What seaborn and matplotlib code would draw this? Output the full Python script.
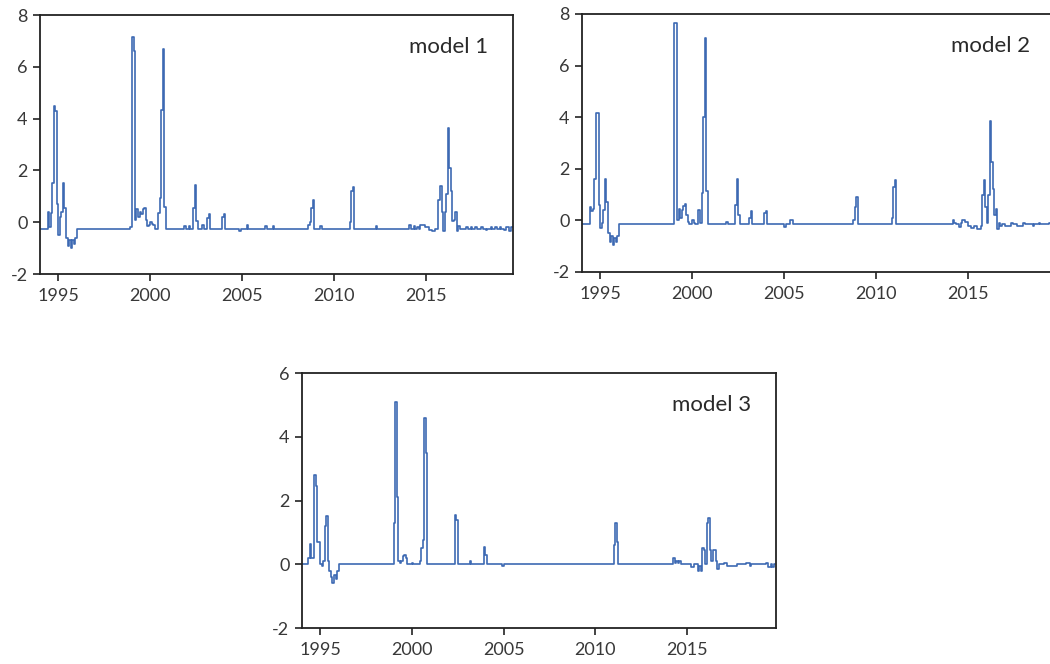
import pandas as pd
import matplotlib
matplotlib.use("Agg")
import matplotlib.pyplot as plt
import matplotlib.dates as mdates
import seaborn as sns

# monthly values (only the months where the line changes,
# the line is drawn as steps so flat stretches hold the last value)
model1 = [
    ("1994-01", -0.25), ("1994-06", 0.4), ("1994-07", -0.2), ("1994-08", 0.35),
    ("1994-09", 1.5), ("1994-10", 4.5), ("1994-11", 4.3), ("1994-12", 0.7),
    ("1995-01", -0.5), ("1995-02", 0.2), ("1995-03", 0.4), ("1995-04", 1.5),
    ("1995-05", 0.55), ("1995-06", -0.6), ("1995-07", -0.9), ("1995-08", -0.7),
    ("1995-09", -1.0), ("1995-10", -0.7), ("1995-11", -0.85), ("1995-12", -0.6),
    ("1996-01", -0.25), ("1998-12", -0.2), ("1999-01", 7.15), ("1999-02", 6.6),
    ("1999-03", 0.1), ("1999-04", 0.5), ("1999-05", 0.2), ("1999-06", 0.4),
    ("1999-07", 0.3), ("1999-08", 0.5), ("1999-09", 0.55), ("1999-10", 0.1),
    ("1999-11", -0.15), ("1999-12", -0.1), ("2000-01", 0.0), ("2000-02", -0.05),
    ("2000-03", -0.1), ("2000-04", -0.25), ("2000-06", 0.35), ("2000-07", 0.95),
    ("2000-08", 4.35), ("2000-09", 6.7), ("2000-10", 0.6), ("2000-11", -0.25),
    ("2001-11", -0.15), ("2001-12", -0.25), ("2002-02", -0.15), ("2002-03", -0.25),
    ("2002-05", 0.55), ("2002-06", 1.45), ("2002-07", 0.05), ("2002-08", -0.25),
    ("2002-11", -0.12), ("2002-12", -0.25), ("2003-02", 0.15), ("2003-03", 0.3),
    ("2003-04", -0.25), ("2003-12", 0.2), ("2004-01", 0.3), ("2004-02", -0.25),
    ("2004-11", -0.32), ("2004-12", -0.25), ("2005-04", -0.1), ("2005-05", -0.25),
    ("2006-04", -0.15), ("2006-05", -0.25), ("2006-09", -0.15), ("2006-10", -0.25),
    ("2008-08", -0.1), ("2008-09", 0.0), ("2008-10", 0.55), ("2008-11", 0.85),
    ("2008-12", -0.25), ("2009-04", -0.15), ("2009-05", -0.25),
    ("2010-11", 0.0), ("2010-12", 1.2), ("2011-01", 1.35), ("2011-02", -0.25),
    ("2012-04", -0.15), ("2012-05", -0.25),
    ("2014-02", -0.1), ("2014-03", -0.25), ("2014-05", -0.15), ("2014-06", -0.25),
    ("2014-07", -0.2), ("2014-08", -0.25), ("2014-09", -0.1), ("2014-11", -0.1),
    ("2014-12", -0.2), ("2015-03", -0.3), ("2015-05", -0.35), ("2015-07", -0.25),
    ("2015-09", 0.85), ("2015-10", 1.4), ("2015-11", 0.4), ("2015-12", -0.35),
    ("2016-01", 0.4), ("2016-02", 1.1), ("2016-03", 3.65), ("2016-04", 2.1),
    ("2016-05", 1.2), ("2016-06", 0.05), ("2016-07", 0.1), ("2016-08", 0.4),
    ("2016-09", -0.35), ("2016-10", -0.15), ("2016-11", -0.25),
    ("2017-03", -0.2), ("2017-04", -0.25), ("2017-06", -0.2), ("2017-07", -0.25),
    ("2017-09", -0.2), ("2017-10", -0.25), ("2018-01", -0.2), ("2018-02", -0.25),
    ("2018-04", -0.3), ("2018-05", -0.25), ("2018-07", -0.2), ("2018-08", -0.25),
    ("2018-10", -0.2), ("2018-11", -0.25), ("2019-01", -0.2), ("2019-02", -0.25),
    ("2019-04", -0.3), ("2019-05", -0.2), ("2019-07", -0.35), ("2019-08", -0.2),
    ("2019-10", -0.2),
]

model2 = [
    ("1994-01", -0.15), ("1994-06", 0.5), ("1994-07", 0.35), ("1994-08", 0.45),
    ("1994-09", 1.6), ("1994-10", 4.15), ("1994-11", 4.15), ("1994-12", 0.6),
    ("1995-01", -0.3), ("1995-02", -0.1), ("1995-03", 0.4), ("1995-04", 1.6),
    ("1995-05", 0.7), ("1995-06", -0.5), ("1995-07", -0.85), ("1995-08", -0.6),
    ("1995-09", -0.95), ("1995-10", -0.7), ("1995-11", -0.85), ("1995-12", -0.6),
    ("1996-01", -0.15), ("1999-01", 7.65), ("1999-02", 7.65), ("1999-03", 0.0),
    ("1999-04", 0.45), ("1999-05", 0.1), ("1999-06", 0.4), ("1999-07", 0.55),
    ("1999-08", 0.65), ("1999-09", 0.2), ("1999-10", -0.05), ("1999-11", -0.15),
    ("2000-01", 0.0), ("2000-02", -0.1), ("2000-03", -0.15), ("2000-05", 0.4),
    ("2000-06", -0.1), ("2000-07", 1.05), ("2000-08", 4.0), ("2000-09", 7.05),
    ("2000-10", 1.15), ("2000-11", -0.15),
    ("2001-11", -0.05), ("2001-12", -0.15), ("2002-05", 0.6), ("2002-06", 1.6),
    ("2002-07", 0.2), ("2002-08", -0.15), ("2003-02", 0.1), ("2003-03", 0.35),
    ("2003-04", -0.15), ("2003-12", 0.3), ("2004-01", 0.35), ("2004-02", -0.15),
    ("2005-01", -0.25), ("2005-02", -0.15), ("2005-05", 0.0), ("2005-07", -0.15),
    ("2008-10", 0.0), ("2008-11", 0.5), ("2008-12", 0.9), ("2009-01", -0.15),
    ("2010-11", 0.1), ("2010-12", 1.3), ("2011-01", 1.55), ("2011-02", -0.15),
    ("2014-03", 0.0), ("2014-04", -0.1), ("2014-05", -0.15), ("2014-07", -0.25),
    ("2014-08", -0.1), ("2014-09", 0.0), ("2014-11", -0.05), ("2015-01", -0.2),
    ("2015-03", -0.3), ("2015-05", -0.2), ("2015-07", -0.35), ("2015-09", -0.2),
    ("2015-10", 1.0), ("2015-11", 1.55), ("2015-12", 0.5), ("2016-01", -0.1),
    ("2016-02", 1.0), ("2016-03", 3.85), ("2016-04", 2.25), ("2016-05", 1.2),
    ("2016-06", 0.2), ("2016-07", 0.45), ("2016-08", -0.35), ("2016-09", -0.1),
    ("2016-10", -0.2), ("2016-11", -0.15), ("2017-01", -0.2), ("2017-05", -0.1),
    ("2017-06", -0.15), ("2017-09", -0.2), ("2018-01", -0.1), ("2018-02", -0.15),
    ("2018-07", -0.2), ("2018-08", -0.15), ("2018-11", -0.1), ("2018-12", -0.15),
    ("2019-06", -0.1), ("2019-07", -0.15), ("2019-09", -0.35), ("2019-10", -0.35),
]

model3 = [
    ("1994-01", 0.0), ("1994-05", 0.2), ("1994-06", 0.65), ("1994-07", 0.2),
    ("1994-09", 2.8), ("1994-10", 2.45), ("1994-11", 0.7), ("1994-12", 0.7),
    ("1995-01", 0.0), ("1995-02", -0.05), ("1995-03", 0.1), ("1995-04", 1.2),
    ("1995-05", 1.5), ("1995-06", 0.1), ("1995-07", -0.2), ("1995-08", -0.4),
    ("1995-09", -0.6), ("1995-10", -0.35), ("1995-11", -0.45), ("1995-12", -0.2),
    ("1996-01", 0.0), ("1999-01", 1.3), ("1999-02", 5.1), ("1999-03", 2.1),
    ("1999-04", 0.1), ("1999-05", 0.05), ("1999-06", 0.1), ("1999-07", 0.25),
    ("1999-08", 0.3), ("1999-09", 0.2), ("1999-10", 0.0), ("2000-01", 0.05),
    ("2000-02", 0.0), ("2000-06", 0.1), ("2000-07", 0.5), ("2000-08", 0.75),
    ("2000-09", 4.6), ("2000-10", 3.5), ("2000-11", 0.0),
    ("2002-05", 1.55), ("2002-06", 1.4), ("2002-07", 0.0), ("2003-03", 0.1),
    ("2003-04", 0.0), ("2003-12", 0.55), ("2004-01", 0.3), ("2004-02", 0.0),
    ("2004-12", -0.05), ("2005-01", 0.0),
    ("2011-01", 0.6), ("2011-02", 1.3), ("2011-03", 0.7), ("2011-04", 0.0),
    ("2014-04", 0.2), ("2014-05", 0.05), ("2014-06", 0.1), ("2014-07", 0.05),
    ("2014-08", 0.1), ("2014-09", 0.0), ("2015-04", -0.1), ("2015-06", 0.0),
    ("2015-08", -0.2), ("2015-09", -0.05), ("2015-10", -0.2), ("2015-11", 0.5),
    ("2015-12", 0.45), ("2016-01", 0.0), ("2016-02", 1.3), ("2016-03", 1.45),
    ("2016-04", 0.45), ("2016-05", 0.1), ("2016-06", 0.45), ("2016-07", 0.45),
    ("2016-08", 0.1), ("2016-09", -0.15), ("2016-10", 0.0), ("2017-01", 0.05),
    ("2017-03", -0.05), ("2017-07", -0.05), ("2017-10", 0.0), ("2018-04", 0.05),
    ("2018-06", -0.05), ("2018-07", 0.0), ("2019-05", 0.05), ("2019-06", -0.1),
    ("2019-08", 0.0), ("2019-09", -0.1), ("2019-10", 0.0), ("2019-11", 0.0),
]

titles = ["model 1", "model 2", "model 3"]
y_limits = [(-2, 8), (-2, 8), (-2, 6)]
y_ticks = [[-2, 0, 2, 4, 6, 8], [-2, 0, 2, 4, 6, 8], [-2, 0, 2, 4, 6]]

line_color = "#3d69b3"

sns.set_style("ticks")
plt.rcParams['font.family'] = ['Lato', 'DejaVu Sans']
plt.rcParams['axes.unicode_minus'] = False  # plain hyphen like "-2" in the original

fig = plt.figure(figsize=(10.5, 6.64), dpi=100)

# [left, bottom, width, height] in figure fraction, second panel runs off the right edge
positions = [
    [0.0381, 0.5873, 0.4505, 0.3900],
    [0.5543, 0.5904, 0.4505, 0.3886],
    [0.2876, 0.0542, 0.4514, 0.3840],
]
x_ends = ["2019-09-20", "2019-09-20", "2019-11-10"]

for data, title, ylim, yt, pos, x_end in zip([model1, model2, model3], titles,
                                             y_limits, y_ticks, positions, x_ends):
    months, values = zip(*data)
    df = pd.DataFrame({"date": pd.to_datetime(list(months)), "value": list(values)})

    ax = fig.add_axes(pos)
    sns.lineplot(data=df, x="date", y="value", ax=ax, color=line_color,
                 linewidth=1.2, drawstyle="steps-post")

    ax.set_xlim(pd.Timestamp("1994-01-01"), pd.Timestamp(x_end))
    ax.set_ylim(*ylim)
    ax.set_yticks(yt)
    ax.xaxis.set_major_locator(mdates.YearLocator(5))
    ax.xaxis.set_major_formatter(mdates.DateFormatter("%Y"))
    ax.set_xlabel("")
    ax.set_ylabel("")

    ax.tick_params(axis="both", direction="out", length=5, width=1.2,
                   labelsize=13, labelcolor="#383838", color="#222222",
                   top=False, right=False)
    ax.tick_params(axis="x", pad=5)
    ax.tick_params(axis="y", pad=4)
    for side in ["left", "right", "top", "bottom"]:
        ax.spines[side].set_visible(True)
        ax.spines[side].set_color("#222222")
        ax.spines[side].set_linewidth(1.3)

    ax.text(0.78, 0.875, title, transform=ax.transAxes, fontsize=16,
            va="center", ha="left", color="#2a2a2a")

fig.savefig("out.png", dpi=100)
